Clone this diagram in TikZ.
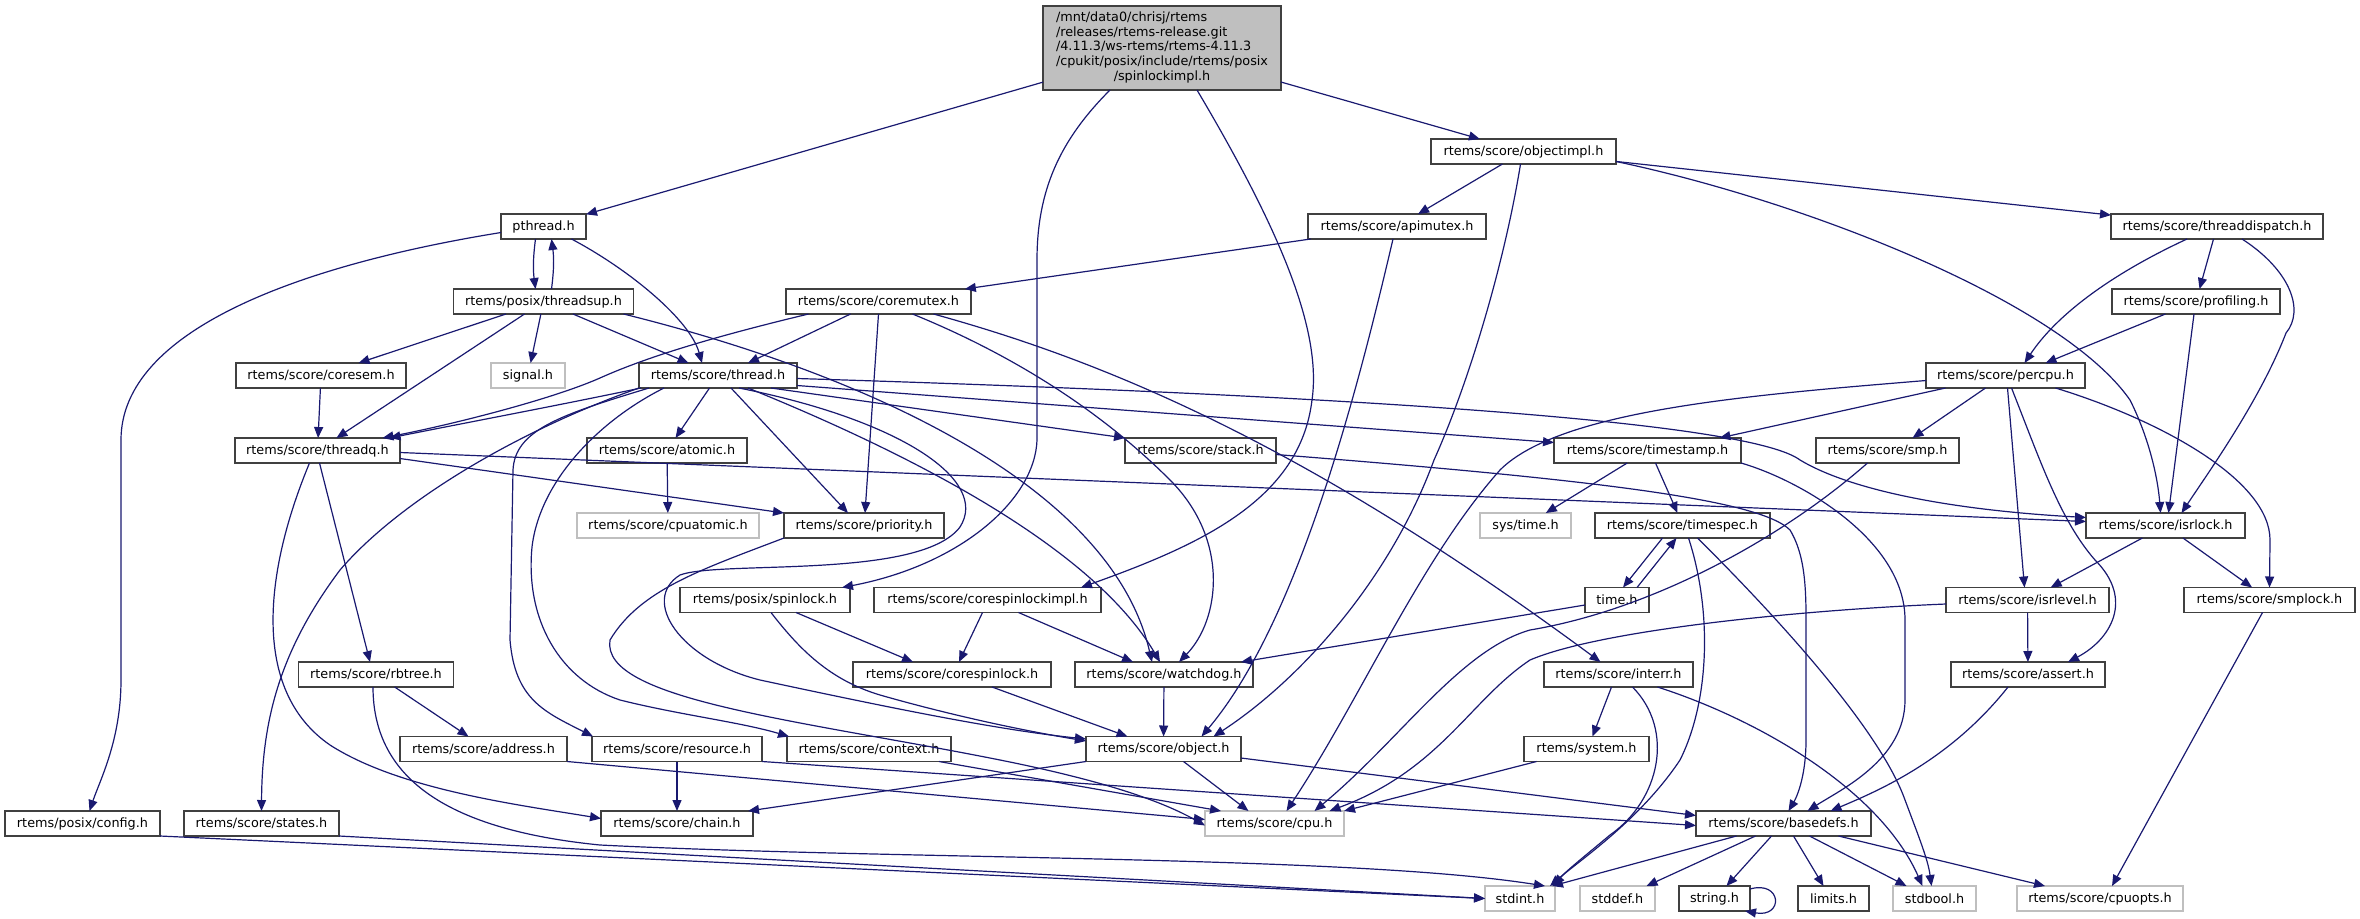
\documentclass[tikz,border=0pt]{standalone}
\usepackage{fontspec}
\setmainfont{DejaVu Sans}
\usetikzlibrary{arrows.meta}
\definecolor{edgec}{HTML}{191970}
\definecolor{bord}{HTML}{404040}
\definecolor{gbord}{HTML}{BFBFBF}
\definecolor{mainfill}{HTML}{BFBFBF}
\begin{document}
\begin{tikzpicture}[x=1pt,y=-1pt,font=\fontsize{12.8}{14.8}\selectfont]
\tikzset{
 box/.style={draw=bord, line width=1.6pt, fill=white, minimum height=25pt, inner sep=0pt, outer sep=0pt, text=black},
 gbox/.style={box, draw=gbord},
 e/.style={edgec, line width=1.2pt, -{Triangle[length=11pt,width=9pt]}}
}
\useasboundingbox (0,0) rectangle (2360,918);
% nodes
\node[box, fill=mainfill, minimum width=238pt, minimum height=84pt] (main) at (1162,48) {\begin{tabular}{@{}l@{}}/mnt/data0/chrisj/rtems\\/releases/rtems-release.git\\/4.11.3/ws-rtems/rtems-4.11.3\\/cpukit/posix/include/rtems/posix\\\multicolumn{1}{@{}c@{}}{/spinlockimpl.h}\end{tabular}};
\node[box,minimum width=185pt] (objectimpl) at (1523.5,151.5) {rtems/score/objectimpl.h};
\node[box,minimum width=85pt] (pthread) at (543.5,226.5) {pthread.h};
\node[box,minimum width=177.5pt] (apimutex) at (1397,226.5) {rtems/score/apimutex.h};
\node[box,minimum width=212pt] (threaddispatch) at (2217,226.5) {rtems/score/threaddispatch.h};
\node[box,minimum width=180pt] (threadsup) at (543.5,301.5) {rtems/posix/threadsup.h};
\node[box,minimum width=185pt] (coremutex) at (878.5,301.5) {rtems/score/coremutex.h};
\node[box,minimum width=168pt] (profiling) at (2196,301.5) {rtems/score/profiling.h};
\node[box,minimum width=170pt] (coresem) at (321,375.5) {rtems/score/coresem.h};
\node[gbox,minimum width=74pt] (signal) at (528,375.5) {signal.h};
\node[box,minimum width=158pt] (thread) at (718,375.5) {rtems/score/thread.h};
\node[box,minimum width=159pt] (percpu) at (2005.5,375.5) {rtems/score/percpu.h};
\node[box,minimum width=165pt] (threadq) at (317.5,450.5) {rtems/score/threadq.h};
\node[box,minimum width=160pt] (atomic) at (667,450.5) {rtems/score/atomic.h};
\node[box,minimum width=151pt] (stack) at (1200.5,450.5) {rtems/score/stack.h};
\node[box,minimum width=187pt] (timestamp) at (1647.5,450.5) {rtems/score/timestamp.h};
\node[box,minimum width=143pt] (smp) at (1887.5,450.5) {rtems/score/smp.h};
\node[gbox,minimum width=182pt] (cpuatomic) at (668,525.5) {rtems/score/cpuatomic.h};
\node[box,minimum width=160pt] (priority) at (864,525.5) {rtems/score/priority.h};
\node[gbox,minimum width=91pt] (systime) at (1525.5,525.5) {sys/time.h};
\node[box,minimum width=175pt] (timespec) at (1682.5,525.5) {rtems/score/timespec.h};
\node[box,minimum width=159pt] (isrlock) at (2165.5,525.5) {rtems/score/isrlock.h};
\node[box,minimum width=170pt] (spinlock) at (765,600) {rtems/posix/spinlock.h};
\node[box,minimum width=227pt] (corespinlockimpl) at (987.5,600) {rtems/score/corespinlockimpl.h};
\node[box,minimum width=64pt] (timeh) at (1617,600) {time.h};
\node[box,minimum width=163pt] (isrlevel) at (2027.5,600) {rtems/score/isrlevel.h};
\node[box,minimum width=171pt] (smplock) at (2269.5,600) {rtems/score/smplock.h};
\node[box,minimum width=155pt] (rbtree) at (376,674.5) {rtems/score/rbtree.h};
\node[box,minimum width=198pt] (corespinlock) at (952,674.5) {rtems/score/corespinlock.h};
\node[box,minimum width=178pt] (watchdog) at (1164,674.5) {rtems/score/watchdog.h};
\node[box,minimum width=149pt] (interr) at (1618.5,674.5) {rtems/score/interr.h};
\node[box,minimum width=154pt] (assert) at (2028,674.5) {rtems/score/assert.h};
\node[box,minimum width=167pt] (address) at (483.5,749) {rtems/score/address.h};
\node[box,minimum width=170pt] (resource) at (677,749) {rtems/score/resource.h};
\node[box,minimum width=164pt] (context) at (869,749) {rtems/score/context.h};
\node[box,minimum width=155pt] (object) at (1163.5,749) {rtems/score/object.h};
\node[box,minimum width=125pt] (system) at (1586.5,749) {rtems/system.h};
\node[box,minimum width=155pt] (config) at (82.5,823.5) {rtems/posix/config.h};
\node[box,minimum width=155pt] (states) at (261.5,823.5) {rtems/score/states.h};
\node[box,minimum width=152pt] (chain) at (677,823.5) {rtems/score/chain.h};
\node[gbox,minimum width=139pt] (cpu) at (1274.5,823.5) {rtems/score/cpu.h};
\node[box,minimum width=175pt] (basedefs) at (1783.5,823.5) {rtems/score/basedefs.h};
\node[gbox,minimum width=70pt] (stdint) at (1520,898.5) {stdint.h};
\node[gbox,minimum width=75pt] (stddef) at (1617.5,898.5) {stddef.h};
\node[box,minimum width=71pt] (string) at (1714.5,898.5) {string.h};
\node[box,minimum width=71pt] (limits) at (1833.5,898.5) {limits.h};
\node[gbox,minimum width=83pt] (stdbool) at (1934.5,898.5) {stdbool.h};
\node[gbox,minimum width=166pt] (cpuopts) at (2100,898.5) {rtems/score/cpuopts.h};
% edges from main
\draw[e] (main) -- (pthread);
\draw[e] (main) -- (objectimpl);
\draw[e] ([xshift=-52pt]main.south) .. controls (1060,140) and (1037,190) .. (1037,260) -- (1037,440) .. controls (1035,500) and (960,565) .. ([xshift=-8pt]spinlock.north east);
\draw[e] ([xshift=35pt]main.south) .. controls (1280,230) and (1322,330) .. (1312,400) .. controls (1300,500) and (1200,545) .. ([xshift=-20pt]corespinlockimpl.north east);
% objectimpl
\draw[e] (objectimpl) -- (apimutex);
\draw[e] (objectimpl) -- (threaddispatch);
\draw[e] ([xshift=-3pt]objectimpl.south) .. controls (1505,260) and (1470,380) .. (1434,460) .. controls (1390,580) and (1300,680) .. ([xshift=50pt]object.north);
\draw[e] ([yshift=-10pt]objectimpl.east) .. controls (1800,200) and (2060,300) .. (2130,400) .. controls (2150,440) and (2158,480) .. ([xshift=-5pt]isrlock.north);
% apimutex
\draw[e] (apimutex) -- (coremutex);
\draw[e] ([xshift=-4pt]apimutex.south) .. controls (1360,380) and (1300,620) .. ([xshift=38pt]object.north);
% threaddispatch / profiling
\draw[e] ([xshift=-30pt]threaddispatch.south) .. controls (2120,270) and (2060,310) .. ([xshift=19pt]percpu.north);
\draw[e] (threaddispatch) -- (profiling);
\draw[e] ([xshift=25pt]threaddispatch.south) .. controls (2290,270) and (2305,310) .. (2286,333) .. controls (2260,400) and (2210,470) .. ([xshift=16pt]isrlock.north);
\draw[e] (profiling) -- ([xshift=40pt]percpu.north);
\draw[e] ([xshift=-2pt]profiling.south) -- ([xshift=3pt]isrlock.north);
% pthread / threadsup
\draw[e] ([xshift=-8pt]pthread.south) .. controls (533,258) and (533,270) .. ([xshift=-8pt]threadsup.north);
\draw[e] ([xshift=8pt]threadsup.north) .. controls (554,270) and (554,258) .. ([xshift=8pt]pthread.south);
\draw[e] ([xshift=28pt]pthread.south) .. controls (630,270) and (690,320) .. ([xshift=-16pt]thread.north);
\draw[e] ([yshift=-6pt]pthread.west) .. controls (300,265) and (121,330) .. (121,440) -- (121,680) .. controls (121,740) and (100,780) .. ([xshift=7pt]config.north);
\draw[e] (threadsup) -- (coresem);
\draw[e] (threadsup) -- (threadq);
\draw[e] (threadsup) -- (signal);
\draw[e] (threadsup) -- (thread);
\draw[e] ([xshift=80pt]threadsup.south) .. controls (850,370) and (1110,480) .. ([xshift=-12pt]watchdog.north);
% coremutex
\draw[e] ([xshift=-70pt]coremutex.south) .. controls (700,340) and (640,360) .. (600,378) .. controls (550,400) and (450,425) .. ([xshift=65pt]threadq.north);
\draw[e] ([xshift=-28pt]coremutex.south) -- ([xshift=30pt]thread.north);
\draw[e] ([xshift=0pt]coremutex.south) -- ([xshift=1pt]priority.north);
\draw[e] ([xshift=34pt]coremutex.south) .. controls (1050,370) and (1130,440) .. (1170,480) .. controls (1230,540) and (1220,620) .. ([xshift=15pt]watchdog.north);
\draw[e] ([xshift=55pt]coremutex.south) .. controls (1100,360) and (1300,440) .. ([xshift=-18pt]interr.north);
\draw[e] (coresem) -- (threadq);
% thread
\draw[e] ([xshift=2pt]thread.south west) .. controls (560,405) and (480,420) .. ([xshift=72pt]threadq.north);
\draw[e] (thread) -- (atomic);
\draw[e] ([xshift=13pt]thread.south) -- ([xshift=-16pt]priority.north);
\draw[e] ([xshift=53pt]thread.south) -- (stack.north west);
\draw[e] ([yshift=-10pt]thread.east) -- ([yshift=8pt]timestamp.west);
\draw[e] ([yshift=-3pt]thread.east) .. controls (1500,400) and (1760,430) .. (1800,460) .. controls (1850,490) and (1950,510) .. ([yshift=8pt]isrlock.west);
\draw[e] ([xshift=30pt]thread.south) .. controls (950,470) and (1100,560) .. ([xshift=-4pt]watchdog.north);
\draw[e] ([xshift=10pt]thread.south west) .. controls (560,415) and (515,430) .. (513,470) -- (510,640) .. controls (515,700) and (545,712) .. ([xshift=1pt]resource.north west);
\draw[e] ([xshift=25pt]thread.south west) .. controls (600,420) and (540,480) .. (532,547) .. controls (525,620) and (560,680) .. (620,700) .. controls (680,715) and (740,722) .. ([xshift=2pt]context.north west);
\draw[e] (thread.south west) .. controls (520,430) and (400,500) .. (340,570) .. controls (280,650) and (262,720) .. (states.north);
\draw[e] ([xshift=100pt]thread.south west) .. controls (900,420) and (990,480) .. (960,527) .. controls (920,580) and (720,560) .. (680,575) .. controls (640,600) and (680,660) .. (760,680) .. controls (900,710) and (1000,730) .. ([yshift=10pt]object.west);
% percpu
\draw[e] ([yshift=-5pt]percpu.west) .. controls (1750,395) and (1560,410) .. (1500,470) .. controls (1420,560) and (1360,700) .. ([xshift=12pt]cpu.north);
\draw[e] ([xshift=-60pt]percpu.south) -- ([xshift=72pt]timestamp.north);
\draw[e] ([xshift=-20pt]percpu.south) -- ([xshift=25pt]smp.north);
\draw[e] ([xshift=2pt]percpu.south) -- ([xshift=-3pt]isrlevel.north);
\draw[e] ([xshift=6pt]percpu.south) .. controls (2040,460) and (2060,520) .. (2095,560) .. controls (2135,600) and (2110,640) .. ([xshift=40pt]assert.north);
\draw[e] ([xshift=50pt]percpu.south) .. controls (2160,420) and (2270,480) .. (2270,540) -- (smplock.north);
% threadq
\draw[e] ([yshift=-8pt]threadq.east) -- (priority.north west);
\draw[e] ([yshift=-2pt]threadq.east) -- ([yshift=4pt]isrlock.west);
\draw[e] ([xshift=2pt]threadq.south) -- ([xshift=-6pt]rbtree.north);
\draw[e] ([xshift=-8pt]threadq.south) .. controls (265,570) and (250,690) .. (330,745) .. controls (400,790) and (520,805) .. ([yshift=5pt]chain.west);
% others
\draw[e] (atomic) -- (cpuatomic);
\draw[e] ([yshift=-4pt]stack.east) .. controls (1600,480) and (1760,500) .. (1790,530) .. controls (1808,560) and (1806,600) .. (1806,650) -- (1806,740) .. controls (1806,780) and (1795,800) .. ([xshift=5pt]basedefs.north);
\draw[e] (timestamp) -- (systime);
\draw[e] ([xshift=8pt]timestamp.south) -- ([xshift=-5pt]timespec.north);
\draw[e] (timestamp.south east) .. controls (1800,480) and (1905,540) .. (1905,620) -- (1905,700) .. controls (1905,760) and (1840,790) .. ([xshift=24pt]basedefs.north);
\draw[e] ([xshift=-20pt]smp.south) .. controls (1780,540) and (1650,610) .. (1530,630) .. controls (1460,650) and (1400,740) .. ([xshift=40pt]cpu.north);
\draw[e] ([xshift=-20pt]timespec.south) -- ([xshift=6pt]timeh.north);
\draw[e] ([xshift=20pt]timeh.north) -- ([xshift=-6pt]timespec.south);
\draw[e] ([xshift=6pt]timespec.south) .. controls (1712,610) and (1710,700) .. (1680,760) .. controls (1640,820) and (1580,860) .. ([xshift=-5pt]stdint.north east);
\draw[e] ([xshift=15pt]timespec.south) .. controls (1780,620) and (1880,730) .. (1905,800) .. controls (1920,840) and (1928,860) .. ([xshift=-3pt]stdbool.north);
\draw[e] ([yshift=-5pt]timeh.west) -- ([xshift=-12pt]watchdog.north east);
\draw[e] (isrlock) -- (isrlevel);
\draw[e] (isrlock) -- (smplock);
\draw[e] ([yshift=-4pt]isrlevel.west) .. controls (1800,610) and (1600,630) .. (1530,660) .. controls (1470,700) and (1440,770) .. ([xshift=55pt]cpu.north);
\draw[e] (isrlevel) -- (assert);
\draw[e] ([xshift=-7pt]smplock.south) -- ([xshift=12pt]cpuopts.north);
\draw[e] ([xshift=-20pt]assert.south) .. controls (1950,760) and (1880,790) .. ([xshift=47pt]basedefs.north);
\draw[e] ([xshift=31pt]spinlock.south) -- ([xshift=-39pt]corespinlock.north);
\draw[e] ([xshift=6pt]spinlock.south) .. controls (800,650) and (830,680) .. (880,695) .. controls (950,715) and (1020,730) .. ([yshift=8pt]object.west);
\draw[e] ([xshift=-5pt]corespinlockimpl.south) -- ([xshift=7pt]corespinlock.north);
\draw[e] ([xshift=31pt]corespinlockimpl.south) -- ([xshift=-31pt]watchdog.north);
\draw[e] ([xshift=-3pt]rbtree.south) .. controls (373,780) and (450,830) .. (600,845) .. controls (900,860) and (1350,855) .. ([xshift=-10pt]stdint.north east);
\draw[e] (rbtree) -- ([xshift=-15pt]address.north);
\draw[e] ([xshift=40pt]corespinlock.south) -- ([xshift=-36pt]object.north);
\draw[e] (watchdog) -- (object);
\draw[e] ([xshift=-7pt]interr.south) -- ([xshift=6pt]system.north);
\draw[e] ([xshift=14pt]interr.south) .. controls (1675,730) and (1660,800) .. (1610,835) .. controls (1580,860) and (1565,872) .. ([xshift=-1pt]stdint.north east);
\draw[e] ([xshift=39pt]interr.south) .. controls (1760,720) and (1880,790) .. ([xshift=-12pt]stdbool.north);
\draw[e] (address.south east) -- ([yshift=4pt]cpu.west);
\draw[e] (resource) -- (chain);
\draw[e] (resource.south east) -- ([yshift=-2pt]basedefs.west);
\draw[e] ([xshift=-12pt]context.south east) -- ([xshift=16pt]cpu.north west);
\draw[e] (object.south west) -- ([xshift=-5pt]chain.north east);
\draw[e] ([xshift=20pt]object.south) -- ([xshift=-26pt]cpu.north);
\draw[e] ([yshift=-9pt]object.east) -- ([yshift=8pt]basedefs.west);
\draw[e] ([xshift=-50pt]system.south) -- (cpu.north east);
\draw[e] (config.south east) -- (stdint.west);
\draw[e] (states.south east) -- (stdint.west);
\draw[e] ([xshift=-47pt]basedefs.south) -- ([xshift=-3pt]stdint.north east);
\draw[e] ([xshift=-28pt]basedefs.south) -- ([xshift=29pt]stddef.north);
\draw[e] ([xshift=-12pt]basedefs.south) -- ([xshift=12pt]string.north);
\draw[e] ([xshift=10pt]basedefs.south) -- ([xshift=-10pt]limits.north);
\draw[e] ([xshift=26pt]basedefs.south) -- ([xshift=-28pt]stdbool.north);
\draw[e] ([xshift=55pt]basedefs.south) -- ([xshift=-55pt]cpuopts.north);
\draw[e] ([yshift=-3pt]string.north east) .. controls (1782,880) and (1784,918) .. ([xshift=-5pt]string.south east);
\draw[e] (priority.south west) .. controls (700,570) and (640,590) .. (610,640) .. controls (600,700) and (800,720) .. (1000,760) .. controls (1100,780) and (1160,800) .. ([yshift=-2pt]cpu.west);
\end{tikzpicture}
\end{document}
